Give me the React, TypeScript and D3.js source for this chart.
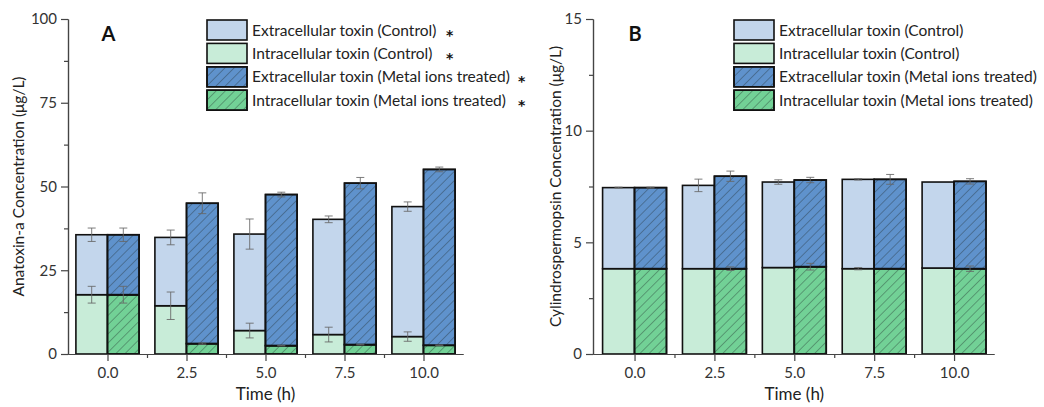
import React, { useEffect, useRef } from "react";
import * as d3 from "d3";

// tiempos (h)
const times = [0, 2.5, 5, 7.5, 10];

// Panel A: anatoxina-a (µg/L)
const anaIntraCtrl = [17.7, 14.4, 7.0, 5.8, 5.2];
const anaExtraCtrl = [17.9, 20.4, 28.8, 34.4, 38.8];
const anaIntraMetal = [17.7, 3.1, 2.5, 2.8, 2.6];
const anaExtraMetal = [17.9, 41.9, 45.1, 48.2, 52.5];
const anaIntraCtrlErr = [2.5, 4.1, 2.2, 2.2, 1.4];
const anaExtraCtrlErr = [2.0, 2.2, 4.5, 1.0, 1.4];
const anaIntraMetalErr = [2.5, 0.2, 0.1, 0.1, 0.1];
const anaExtraMetalErr = [2.0, 3.1, 0.7, 1.7, 0.7];

// Panel B: cilindrospermopsina (µg/L)
const cynIntraCtrl = [3.82, 3.82, 3.87, 3.82, 3.85];
const cynExtraCtrl = [3.63, 3.73, 3.83, 4.0, 3.85];
const cynIntraMetal = [3.82, 3.82, 3.91, 3.82, 3.82];
const cynExtraMetal = [3.63, 4.14, 3.88, 4.0, 3.91];
const cynIntraCtrlErr = [0, 0, 0, 0.05, 0];
const cynExtraCtrlErr = [0.02, 0.28, 0.1, 0.03, 0];
const cynIntraMetalErr = [0, 0.08, 0.15, 0, 0.12];
const cynExtraMetalErr = [0.02, 0.23, 0.12, 0.22, 0.12];

const xTicks = [0, 2.5, 5, 7.5, 10];
const xMinor = [1.25, 3.75, 6.25, 8.75];
const anaTicks = [0, 25, 50, 75, 100];
const anaMinor = [12.5, 37.5, 62.5, 87.5];
const cynTicks = [0, 5, 10, 15];
const cynMinor = [2.5, 7.5, 12.5];

const legendLabels = [
  "Extracellular toxin (Control)",
  "Intracellular toxin (Control)",
  "Extracellular toxin (Metal ions treated)",
  "Intracellular toxin (Metal ions treated)",
];

const C_EXTRA = "#c3d6ec";
const C_INTRA = "#c8ecd8";
const C_EXTRA_M = "#5f92cc";
const C_INTRA_M = "#72d196";
const FONT = "Lato, 'Open Sans', sans-serif";

const Panel = ({ id, x0, x1, xDomain, yMax, yTicks, yMinor, intraC, extraC, intraM, extraM, errIC, errEC, errIM, errEM, yTitle, yTitleX, label, legX, stars }) => {
  const yAxisRef = useRef(null);
  const yMinorRef = useRef(null);
  const xAxisRef = useRef(null);
  const xMinorRef = useRef(null);

  const top = 19, bottom = 354;
  const x = d3.scaleLinear().domain(xDomain).range([x0, x1]);
  const y = d3.scaleLinear().domain([0, yMax]).range([bottom, top]);

  useEffect(() => {
    const style = (sel) => {
      sel.select(".domain").attr("stroke", "#444").attr("stroke-width", 1.2);
      sel.selectAll(".tick line").attr("stroke", "#444").attr("stroke-width", 1.2);
      sel.selectAll(".tick text").attr("fill", "#333").style("font-size", "15px").style("font-family", FONT);
    };
    d3.select(yAxisRef.current)
      .call(d3.axisLeft(y).tickValues(yTicks).tickSize(7).tickPadding(4).tickSizeOuter(0))
      .call(style);
    d3.select(yMinorRef.current)
      .call(d3.axisLeft(y).tickValues(yMinor).tickSize(4).tickFormat(() => "").tickSizeOuter(0))
      .call(style);
    d3.select(xAxisRef.current)
      .call(d3.axisBottom(x).tickValues(xTicks).tickSize(7).tickPadding(6).tickFormat(d3.format(".1f")).tickSizeOuter(0))
      .call(style);
    d3.select(xMinorRef.current)
      .call(d3.axisBottom(x).tickValues(xMinor).tickSize(4).tickFormat(() => "").tickSizeOuter(0))
      .call(style);
  }, []);

  const bars = [];
  const errs = [];
  times.forEach((t, i) => {
    const groups = [
      { x0: t - 1, x1: t, intra: intraC[i], extra: extraC[i], ei: errIC[i], ee: errEC[i], ci: C_INTRA, ce: C_EXTRA, hatch: false },
      { x0: t, x1: t + 1, intra: intraM[i], extra: extraM[i], ei: errIM[i], ee: errEM[i], ci: C_INTRA_M, ce: C_EXTRA_M, hatch: true },
    ];
    groups.forEach((g, j) => {
      const xa = x(g.x0), xb = x(g.x1);
      const tot = g.intra + g.extra;
      const segs = [
        { y0: 0, y1: g.intra, c: g.ci },
        { y0: g.intra, y1: tot, c: g.ce },
      ];
      segs.forEach((s, k) => {
        const r = { x: xa, y: y(s.y1), width: xb - xa, height: y(s.y0) - y(s.y1) };
        bars.push(<rect key={`b${i}${j}${k}`} {...r} fill={s.c} stroke="#111" strokeWidth={1.6} />);
        if (g.hatch) bars.push(<rect key={`h${i}${j}${k}`} {...r} fill={`url(#hatch-${id})`} stroke="#111" strokeWidth={1.6} />);
      });
      const cx = (xa + xb) / 2;
      [[g.intra, g.ei], [tot, g.ee]].forEach(([v, e], k) => {
        if (!e) return;
        const ya = y(v + e), yb = y(v - e);
        errs.push(
          <g key={`e${i}${j}${k}`} stroke="#666" strokeWidth={1} strokeOpacity={0.85}>
            <line x1={cx} x2={cx} y1={ya} y2={yb} />
            <line x1={cx - 4} x2={cx + 4} y1={ya} y2={ya} />
            <line x1={cx - 4} x2={cx + 4} y1={yb} y2={yb} />
          </g>
        );
      });
    });
  });

  const legColors = [C_EXTRA, C_INTRA, C_EXTRA_M, C_INTRA_M];
  const midX = (x(xTicks[0]) + x(xTicks[xTicks.length - 1])) / 2;

  return (
    <g>
      <defs>
        <pattern id={`hatch-${id}`} patternUnits="userSpaceOnUse" width="6.5" height="6.5" patternTransform="rotate(45)">
          <line x1="0" y1="0" x2="0" y2="6.5" stroke="#1f2c2c" strokeWidth="0.8" strokeOpacity="0.85" />
        </pattern>
      </defs>
      {bars}
      {errs}
      <g ref={yMinorRef} transform={`translate(${x0},0)`} />
      <g ref={yAxisRef} transform={`translate(${x0},0)`} />
      <g ref={xMinorRef} transform={`translate(0,${bottom})`} />
      <g ref={xAxisRef} transform={`translate(0,${bottom})`} />
      <text x={midX} y={400} textAnchor="middle" fontSize={17} fontFamily={FONT} fill="#222">Time (h)</text>
      <text transform={`translate(${yTitleX},${(top + bottom) / 2}) rotate(-90)`} textAnchor="middle" fontSize={15.5} fontFamily={FONT} fill="#222">{yTitle}</text>
      <text x={x(xTicks[0]) - 6} y={41} fontSize={20} fontWeight="bold" fontFamily={FONT} fill="#111">{label}</text>
      {legendLabels.map((l, k) => (
        <g key={l} transform={`translate(${legX},${20 + k * 23.4})`}>
          <rect x={0} y={0} width={40} height={20} fill={legColors[k]} stroke="#111" strokeWidth={1.6} />
          {k >= 2 && <rect x={0} y={0} width={40} height={20} fill={`url(#hatch-${id})`} stroke="#111" strokeWidth={1.6} />}
          <text x={45} y={15.5} fontSize={15.5} fontFamily={FONT} fill="#222">{l}</text>
          {stars && <text x={k < 2 ? 239 : 311} y={19.5} fontSize={14} fontWeight="bold" fontFamily="'DejaVu Sans', sans-serif" fill="#111">*</text>}
        </g>
      ))}
    </g>
  );
};

export default function App() {
  return (
    <svg width={1044} height={407} style={{ position: "absolute", left: 0, top: 0, background: "#fff" }}>
      <Panel id="a" x0={68} x1={463} xDomain={[-1.25, 11.25]} yMax={100} yTicks={anaTicks} yMinor={anaMinor}
        intraC={anaIntraCtrl} extraC={anaExtraCtrl} intraM={anaIntraMetal} extraM={anaExtraMetal}
        errIC={anaIntraCtrlErr} errEC={anaExtraCtrlErr} errIM={anaIntraMetalErr} errEM={anaExtraMetalErr}
        yTitle="Anatoxin-a Concentration (μg/L)" yTitleX={24} label="A" legX={207} stars={true} />
      <Panel id="b" x0={593} x1={994} xDomain={[-1.3, 11.25]} yMax={15} yTicks={cynTicks} yMinor={cynMinor}
        intraC={cynIntraCtrl} extraC={cynExtraCtrl} intraM={cynIntraMetal} extraM={cynExtraMetal}
        errIC={cynIntraCtrlErr} errEC={cynExtraCtrlErr} errIM={cynIntraMetalErr} errEM={cynExtraMetalErr}
        yTitle="Cylindrospermopsin Concentration (μg/L)" yTitleX={561} label="B" legX={734} stars={false} />
    </svg>
  );
}
